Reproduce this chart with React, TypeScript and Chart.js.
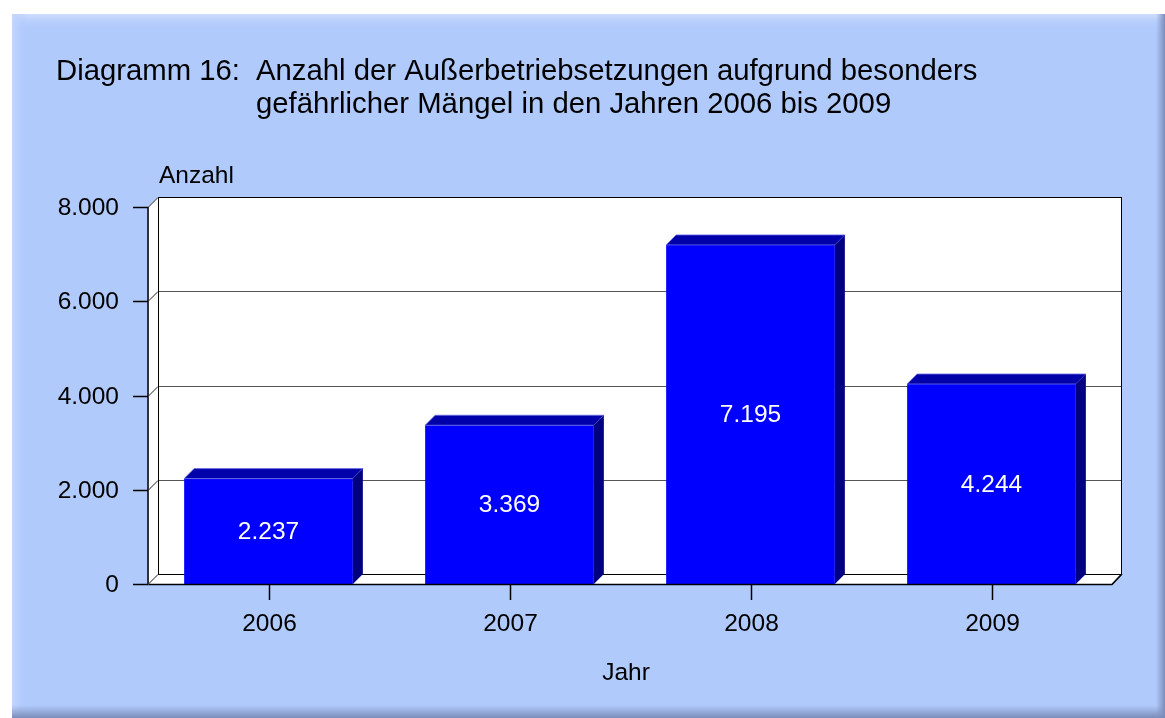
import React, { useEffect, useRef } from "react";
import { Chart, registerables } from "chart.js";
Chart.register(...registerables);

const years = ["2006", "2007", "2008", "2009"];
const counts = [2237, 3369, 7195, 4244];
const countLabels = ["2.237", "3.369", "7.195", "4.244"];
const yTicks = [0, 2000, 4000, 6000, 8000];
const yTickLabels = ["0", "2.000", "4.000", "6.000", "8.000"];
const titlePrefix = "Diagramm 16:";
const titleLines = [
  "Anzahl der Außerbetriebsetzungen aufgrund besonders",
  "gefährlicher Mängel in den Jahren 2006 bis 2009",
];
const yAxisTitle = "Anzahl";
const xAxisTitle = "Jahr";

const FONT = '"Liberation Sans", Arial, sans-serif';
const D = 10;

const deco = {
  id: "deco",
  beforeDraw(chart: any) {
    const ctx = chart.ctx;
    const W = chart.width, H = chart.height;
    ctx.save();
    const L = 12, T = 14;
    ctx.fillStyle = "#B0CAFC";
    ctx.fillRect(L, T, W - L, H - T);
    let g = ctx.createLinearGradient(0, T, 0, T + 16);
    g.addColorStop(0, "#CFDDFD");
    g.addColorStop(1, "rgba(176,202,252,0)");
    ctx.fillStyle = g;
    ctx.fillRect(L, T, W - L, 16);
    g = ctx.createLinearGradient(L, 0, L + 16, 0);
    g.addColorStop(0, "#C4D6FD");
    g.addColorStop(1, "rgba(176,202,252,0)");
    ctx.fillStyle = g;
    ctx.fillRect(L, T, 16, H - T);
    g = ctx.createLinearGradient(W - 9, 0, W, 0);
    g.addColorStop(0, "rgba(128,146,190,0)");
    g.addColorStop(1, "#7A8CBA");
    ctx.fillStyle = g;
    ctx.fillRect(W - 9, T, 9, H - T);
    g = ctx.createLinearGradient(0, H - 13, 0, H);
    g.addColorStop(0, "rgba(128,146,190,0)");
    g.addColorStop(1, "#7A8CBA");
    ctx.fillStyle = g;
    ctx.fillRect(L, H - 13, W - L, 13);

    // Title
    ctx.fillStyle = "#000";
    ctx.font = `29.3px ${FONT}`;
    ctx.textBaseline = "alphabetic";
    ctx.textAlign = "left";
    ctx.fillText(titlePrefix, 56, 80);
    ctx.fillText(titleLines[0], 256, 80);
    ctx.fillText(titleLines[1], 256, 113);
    ctx.restore();
  },
  beforeDatasetsDraw(chart: any) {
    const ctx = chart.ctx;
    const { left, right, top, bottom } = chart.chartArea;
    const ys = chart.scales.y;
    ctx.save();
    // left wall
    ctx.fillStyle = "#fff";
    ctx.beginPath();
    ctx.moveTo(left, top);
    ctx.lineTo(left + D, top - D);
    ctx.lineTo(left + D, bottom - D);
    ctx.lineTo(left, bottom);
    ctx.closePath();
    ctx.fill();
    // back wall
    ctx.fillRect(left + D, top - D, right - left, bottom - top);
    // floor
    ctx.beginPath();
    ctx.moveTo(left, bottom);
    ctx.lineTo(left + D, bottom - D);
    ctx.lineTo(right + D, bottom - D);
    ctx.lineTo(right, bottom);
    ctx.closePath();
    ctx.fill();
    // grid lines on back wall
    ctx.lineWidth = 1;
    yTicks.forEach((v) => {
      const y = Math.round(ys.getPixelForValue(v)) + 0.5;
      ctx.strokeStyle = v === 0 || v === 8000 ? "#000" : "#555";
      ctx.beginPath();
      ctx.moveTo(left + D, y - D);
      ctx.lineTo(right + D, y - D);
      ctx.stroke();
      ctx.strokeStyle = "#222";
      ctx.beginPath();
      ctx.moveTo(left, y);
      ctx.lineTo(left + D, y - D);
      ctx.stroke();
    });
    ctx.strokeStyle = "#000";
    ctx.beginPath();
    ctx.moveTo(left + D + 0.5, top - D);
    ctx.lineTo(left + D + 0.5, bottom - D);
    ctx.moveTo(right + D - 0.5, top - D);
    ctx.lineTo(right + D - 0.5, bottom - D);
    ctx.lineTo(right, bottom);
    ctx.stroke();
    ctx.restore();
  },
  afterDatasetsDraw(chart: any) {
    const ctx = chart.ctx;
    const { left, right, top, bottom } = chart.chartArea;
    const ys = chart.scales.y;
    const xs = chart.scales.x;
    const meta = chart.getDatasetMeta(0);
    ctx.save();
    meta.data.forEach((bar: any, i: number) => {
      const x1 = bar.x - bar.width / 2;
      const x2 = bar.x + bar.width / 2;
      const t = bar.y;
      const b = bar.base;
      // top face
      ctx.fillStyle = "#0000AA";
      ctx.beginPath();
      ctx.moveTo(x1, t);
      ctx.lineTo(x1 + D, t - D);
      ctx.lineTo(x2 + D, t - D);
      ctx.lineTo(x2, t);
      ctx.closePath();
      ctx.fill();
      ctx.strokeStyle = "rgba(110,110,230,0.8)";
      ctx.lineWidth = 1;
      ctx.stroke();
      // side face
      ctx.fillStyle = "#000080";
      ctx.beginPath();
      ctx.moveTo(x2, t);
      ctx.lineTo(x2 + D, t - D);
      ctx.lineTo(x2 + D, b - D);
      ctx.lineTo(x2, b);
      ctx.closePath();
      ctx.fill();
      // value label
      ctx.fillStyle = "#fff";
      ctx.font = `24.5px ${FONT}`;
      ctx.textAlign = "center";
      ctx.textBaseline = "middle";
      ctx.fillText(countLabels[i], bar.x, (t + b) / 2 + 1);
    });
    // front floor edge
    ctx.strokeStyle = "#000";
    ctx.lineWidth = 1.5;
    ctx.beginPath();
    ctx.moveTo(left, bottom + 0.5);
    ctx.lineTo(right, bottom + 0.5);
    ctx.lineTo(right + D, bottom - D);
    ctx.stroke();
    // y axis line
    ctx.strokeStyle = "#333";
    ctx.lineWidth = 2;
    ctx.beginPath();
    ctx.moveTo(left, top);
    ctx.lineTo(left, bottom + 1);
    ctx.stroke();
    // y ticks + labels
    ctx.lineWidth = 1.5;
    ctx.strokeStyle = "#000";
    ctx.fillStyle = "#000";
    ctx.font = `24.5px ${FONT}`;
    ctx.textAlign = "right";
    ctx.textBaseline = "middle";
    yTicks.forEach((v, i) => {
      const y = Math.round(ys.getPixelForValue(v)) + 0.5;
      ctx.beginPath();
      ctx.moveTo(left - 15, y);
      ctx.lineTo(left, y);
      ctx.stroke();
      ctx.fillText(yTickLabels[i], left - 29, y + 1);
    });
    // x ticks + labels
    ctx.textAlign = "center";
    ctx.textBaseline = "alphabetic";
    years.forEach((lab, i) => {
      const x = Math.round(xs.getPixelForValue(i)) + 0.5;
      ctx.beginPath();
      ctx.moveTo(x, bottom);
      ctx.lineTo(x, bottom + 16);
      ctx.stroke();
      ctx.fillText(lab, x, bottom + 47);
    });
    // axis titles
    ctx.fillText(xAxisTitle, 626, 680);
    ctx.textAlign = "left";
    ctx.fillText(yAxisTitle, 159, 183);
    ctx.restore();
  },
};

export default function App() {
  const ref = useRef<HTMLCanvasElement>(null);
  useEffect(() => {
    if (!ref.current) return;
    const chart = new Chart(ref.current, {
      type: "bar",
      data: {
        labels: years,
        datasets: [
          {
            data: counts,
            backgroundColor: "#0000FF",
            borderWidth: 0,
            categoryPercentage: 1,
            barPercentage: 0.7,
          },
        ],
      },
      options: {
        responsive: false,
        animation: false,
        events: [],
        layout: { padding: { left: 148, right: 53, top: 207, bottom: 134 } },
        scales: {
          x: { display: false, offset: true },
          y: { display: false, min: 0, max: 8000 },
        },
        plugins: { legend: { display: false }, tooltip: { enabled: false }, title: { display: false } },
      },
      plugins: [deco],
    });
    return () => chart.destroy();
  }, []);
  return (
    <div style={{ position: "fixed", left: 0, top: 0, width: 1165, height: 718, background: "#fff" }}>
      <canvas ref={ref} width={1165} height={718} style={{ display: "block" }} />
    </div>
  );
}
